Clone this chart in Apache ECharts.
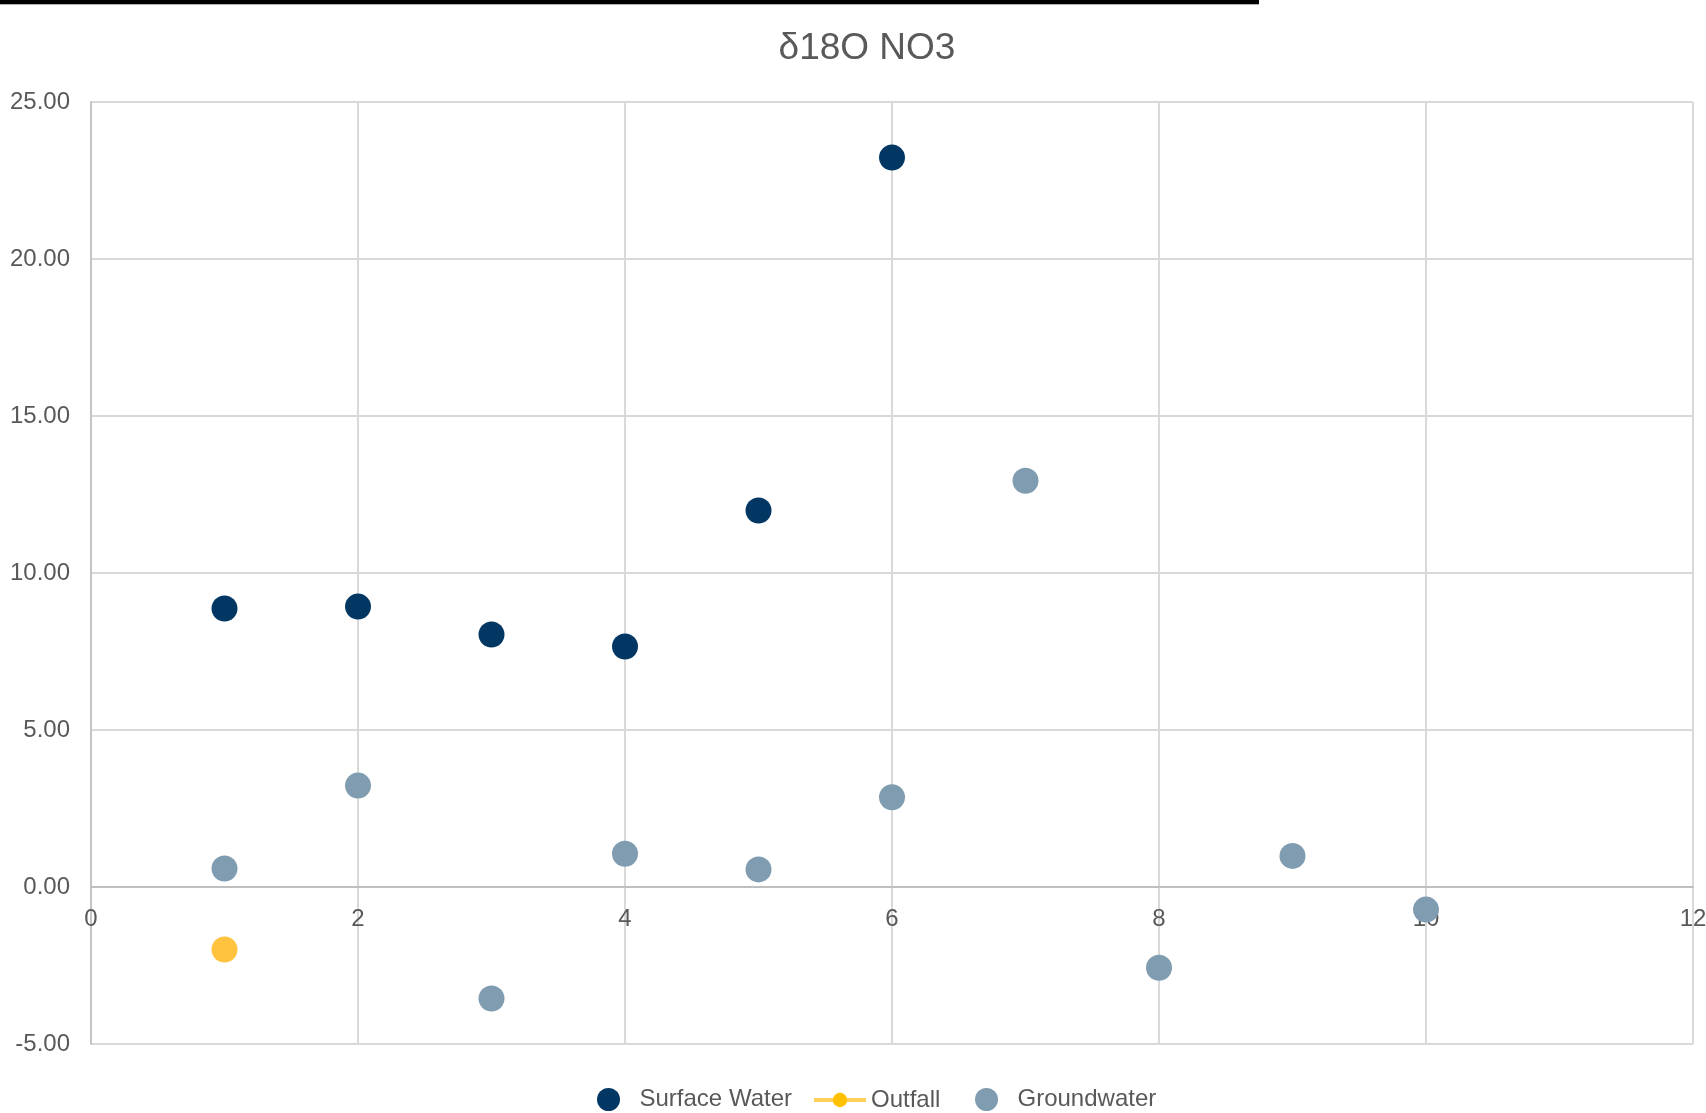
<!DOCTYPE html>
<html>
<head>
<meta charset="utf-8">
<title>δ18O NO3</title>
<script src="https://cdn.jsdelivr.net/npm/echarts@6/dist/echarts.min.js"></script>
<style>
  html, body { margin: 0; padding: 0; background: #ffffff; }
  #chart { width: 1706px; height: 1113px; }
</style>
</head>
<body>
<div id="chart"></div>
<script>
// δ18O of nitrate by sample number, grouped by water type
const chartTitle = 'δ18O NO3';
const seriesNames = ['Surface Water', 'Outfall', 'Groundwater'];

const surfaceX = [1, 2, 3, 4, 5, 6];
const surfaceY = [8.87, 8.93, 8.04, 7.66, 11.99, 23.23];

const outfallX = [1];
const outfallY = [-1.99];

const groundX = [1, 2, 3, 4, 5, 6, 7, 8, 9, 10];
const groundY = [0.59, 3.23, -3.55, 1.06, 0.56, 2.86, 12.94, -2.57, 0.99, -0.72];

const xTicks = { min: 0, max: 12, interval: 2 };
const yTicks = { min: -5, max: 25, interval: 5 };

const FONT = "'Liberation Sans', Arial, sans-serif";
const TEXT = '#595959';

const W = 1706, H = 1113;
const GRID = { left: 91, right: 13, top: 102, bottom: 69 };
// the x axis (line and labels) sits on y = 0 rather than at the bottom edge
const plotH = H - GRID.top - GRID.bottom;
const xAxisOffset = -plotH * (0 - yTicks.min) / (yTicks.max - yTicks.min);

function pairs(xs, ys) {
  return xs.map((x, i) => [x, ys[i]]);
}

function legendBox(name, left, top, itemHeight, extra) {
  return Object.assign({
    left: left,
    top: top,
    orient: 'horizontal',
    itemWidth: 52,
    itemHeight: itemHeight,
    itemGap: 24,
    itemTextGap: 5,
    selectedMode: false,
    padding: 0,
    textStyle: { fontSize: 24, color: TEXT, fontFamily: FONT },
    data: [name]
  }, extra || {});
}

const chart = echarts.init(document.getElementById('chart'), null, { renderer: 'canvas' });

chart.setOption({
  animation: false,
  backgroundColor: '#ffffff',
  textStyle: { fontFamily: FONT },
  graphic: [
    { type: 'rect', shape: { x: 0, y: 0, width: 1259, height: 4 }, style: { fill: '#000000' } },
    { type: 'rect', shape: { x: 0, y: 4, width: 1259, height: 1 }, style: { fill: '#b0b0b0' } },
    {
      type: 'text', x: 867, y: 49,
      style: {
        text: chartTitle, align: 'center', verticalAlign: 'middle',
        fontSize: 37, fontFamily: FONT, fill: TEXT
      }
    }
  ],
  grid: {
    left: GRID.left, right: GRID.right, top: GRID.top, bottom: GRID.bottom,
    containLabel: false,
    outerBoundsMode: 'none'
  },
  legend: [
    legendBox(seriesNames[0], 597, 1087.5, 23),
    legendBox(seriesNames[1], 812, 1088, 18, {
      data: [{
        name: seriesNames[1],
        itemStyle: { color: '#FFC000' },
        lineStyle: { color: '#FFD05A', width: 4 }
      }]
    }),
    legendBox(seriesNames[2], 975, 1087.5, 23)
  ],
  xAxis: {
    type: 'value',
    min: xTicks.min, max: xTicks.max, interval: xTicks.interval,
    offset: xAxisOffset,
    axisLine: { show: true, onZero: false, lineStyle: { color: '#bfbfbf', width: 2 } },
    axisTick: { show: false },
    axisLabel: { fontSize: 24, color: TEXT, fontFamily: FONT, margin: 20, hideOverlap: false },
    splitLine: { show: true, lineStyle: { color: '#d9d9d9', width: 2 } }
  },
  yAxis: {
    type: 'value',
    min: yTicks.min, max: yTicks.max, interval: yTicks.interval,
    axisLine: { show: true, onZero: false, lineStyle: { color: '#c4c4c4', width: 2 } },
    axisTick: { show: false },
    axisLabel: {
      fontSize: 24, color: TEXT, fontFamily: FONT, margin: 21,
      formatter: v => v.toFixed(2)
    },
    splitLine: { show: true, lineStyle: { color: '#d9d9d9', width: 2 } }
  },
  series: [
    {
      name: seriesNames[0],
      type: 'scatter',
      symbol: 'circle',
      symbolSize: 26,
      itemStyle: { color: '#023764', opacity: 1 },
      data: pairs(surfaceX, surfaceY)
    },
    {
      name: seriesNames[1],
      type: 'line',
      symbol: 'circle',
      symbolSize: 26,
      showSymbol: true,
      itemStyle: { color: '#FFC33F', borderWidth: 0 },
      lineStyle: { color: '#FFD05A', width: 4 },
      data: pairs(outfallX, outfallY)
    },
    {
      name: seriesNames[2],
      type: 'scatter',
      symbol: 'circle',
      symbolSize: 26,
      itemStyle: { color: '#7F9CB1', opacity: 1 },
      data: pairs(groundX, groundY)
    }
  ]
});
</script>
</body>
</html>
